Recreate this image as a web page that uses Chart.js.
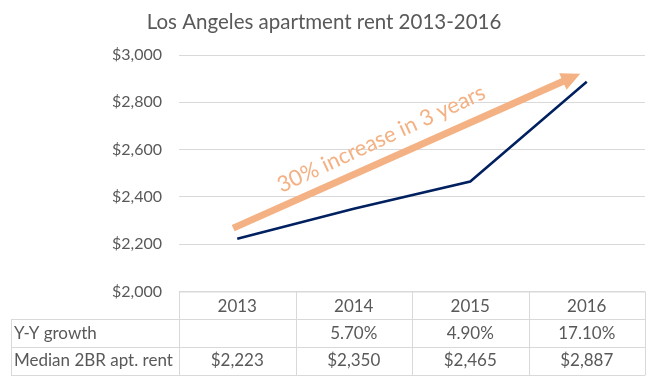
<!DOCTYPE html>
<html>
<head>
<meta charset="utf-8">
<script src="https://cdn.jsdelivr.net/npm/chart.js@4"></script>
<style>
  html, body { margin: 0; padding: 0; background: #ffffff; }
  #wrap { width: 656px; height: 381px; position: relative; }
</style>
</head>
<body>
<div id="wrap"><canvas id="c" width="656" height="381"></canvas></div>
<script>
// ---- data ----
const chartTitle = 'Los Angeles apartment rent 2013-2016';
const categories = ['2013', '2014', '2015', '2016'];
const rent = [2223, 2350, 2465, 2887];
const growthLabels = ['', '5.70%', '4.90%', '17.10%'];
const rowLabels = ['Y-Y growth', 'Median 2BR apt. rent'];
const yMin = 2000, yMax = 3000, yStep = 200;
const arrowText = '30% increase in 3 years';
// arrow annotation in data coordinates: [categoryIndex, value]
const arrowFrom = [-0.035, 2268];
const arrowTo = [2.944, 2921];
const arrowLabelAt = [1.236, 2645];

const FONT = 'Lato, "Open Sans", sans-serif';
const GREY = '#595959';
const LINE = '#d9d9d9';
const ORANGE = '#F4B183';

const money = v => '$' + Number(v).toLocaleString('en-US');

const extras = {
  id: 'extras',
  afterDatasetsDraw(chart) {
    const ctx = chart.ctx;
    const xs = chart.scales.x, ys = chart.scales.y;
    ctx.save();
    // Arrow
    const x1 = xs.getPixelForValue(arrowFrom[0]), y1 = ys.getPixelForValue(arrowFrom[1]);
    const x2 = xs.getPixelForValue(arrowTo[0]), y2 = ys.getPixelForValue(arrowTo[1]);
    const ang = Math.atan2(y2 - y1, x2 - x1);
    const headLen = 19, headHalf = 9;
    const bx = x2 - headLen * Math.cos(ang), by = y2 - headLen * Math.sin(ang);
    ctx.strokeStyle = ORANGE;
    ctx.lineWidth = 7;
    ctx.lineCap = 'butt';
    ctx.beginPath();
    ctx.moveTo(x1, y1);
    ctx.lineTo(bx + 1 * Math.cos(ang), by + 1 * Math.sin(ang));
    ctx.stroke();
    ctx.fillStyle = ORANGE;
    ctx.beginPath();
    ctx.moveTo(x2, y2);
    ctx.lineTo(bx + headHalf * Math.sin(ang), by - headHalf * Math.cos(ang));
    ctx.lineTo(bx - headHalf * Math.sin(ang), by + headHalf * Math.cos(ang));
    ctx.closePath();
    ctx.fill();
    // Arrow label
    const tx = xs.getPixelForValue(arrowLabelAt[0]), ty = ys.getPixelForValue(arrowLabelAt[1]);
    ctx.translate(tx, ty);
    ctx.rotate(ang - 0.015);
    ctx.font = '22px ' + FONT;
    ctx.textAlign = 'center';
    ctx.textBaseline = 'middle';
    ctx.fillText(arrowText, 0, 0);
    ctx.restore();
  },
  afterDraw(chart) {
    const ctx = chart.ctx;
    const xs = chart.scales.x;
    const area = chart.chartArea;
    ctx.save();
    // Title
    ctx.fillStyle = GREY;
    ctx.font = '20.5px ' + FONT;
    ctx.textAlign = 'center';
    ctx.textBaseline = 'alphabetic';
    ctx.fillText(chartTitle, 324, 29);

    // Data table
    const top = area.bottom;
    const rowH = 27.7;
    const r1 = top + rowH, r2 = top + 2 * rowH, r3 = top + 3 * rowH;
    const tableLeft = 11;
    const half = (xs.getPixelForValue(1) - xs.getPixelForValue(0)) / 2;
    ctx.strokeStyle = LINE;
    ctx.lineWidth = 1;
    ctx.beginPath();
    ctx.moveTo(area.left, top + 0.5); ctx.lineTo(area.right, top + 0.5);
    [r1, r2, r3].forEach(y => { const yy = Math.round(y) + 0.5; ctx.moveTo(tableLeft, yy); ctx.lineTo(area.right, yy); });
    ctx.moveTo(tableLeft + 0.5, Math.round(r1) + 0.5); ctx.lineTo(tableLeft + 0.5, Math.round(r3) + 0.5);
    for (let i = 0; i <= categories.length; i++) {
      const x = Math.round(xs.getPixelForValue(i) - half) + 0.5;
      ctx.moveTo(x, top); ctx.lineTo(x, Math.round(r3) + 0.5);
    }
    ctx.stroke();

    ctx.fillStyle = GREY;
    ctx.font = '17px ' + FONT;
    ctx.textBaseline = 'middle';
    ctx.textAlign = 'center';
    categories.forEach((c, i) => {
      const x = xs.getPixelForValue(i);
      ctx.fillText(c, x, top + rowH / 2 + 1);
      ctx.fillText(growthLabels[i], x, r1 + rowH / 2);
      ctx.fillText(money(rent[i]), x, r2 + rowH / 2);
    });
    ctx.textAlign = 'left';
    ctx.fillText(rowLabels[0], tableLeft + 3, r1 + rowH / 2);
    ctx.fillText(rowLabels[1], tableLeft + 3, r2 + rowH / 2);
    ctx.restore();
  }
};

new Chart(document.getElementById('c'), {
  type: 'line',
  data: {
    labels: categories,
    datasets: [{
      label: 'Median 2BR apt. rent',
      data: rent,
      borderColor: '#002060',
      borderWidth: 2.5,
      pointRadius: 0,
      tension: 0,
      fill: false
    }]
  },
  options: {
    responsive: false,
    animation: false,
    devicePixelRatio: 1,
    layout: { padding: { left: 0, right: 11, top: 55, bottom: 89.5 } },
    plugins: { legend: { display: false }, title: { display: false }, tooltip: { enabled: false } },
    scales: {
      x: {
        type: 'category',
        offset: true,
        display: false,
        grid: { display: false }
      },
      y: {
        min: yMin,
        max: yMax,
        afterFit(scale) { scale.width = 179; },
        ticks: {
          stepSize: yStep,
          padding: 17,
          color: GREY,
          font: { family: FONT, size: 16 },
          callback: v => money(v)
        },
        grid: { color: LINE, lineWidth: 1, drawTicks: false },
        border: { display: false }
      }
    }
  },
  plugins: [extras]
});
</script>
</body>
</html>
